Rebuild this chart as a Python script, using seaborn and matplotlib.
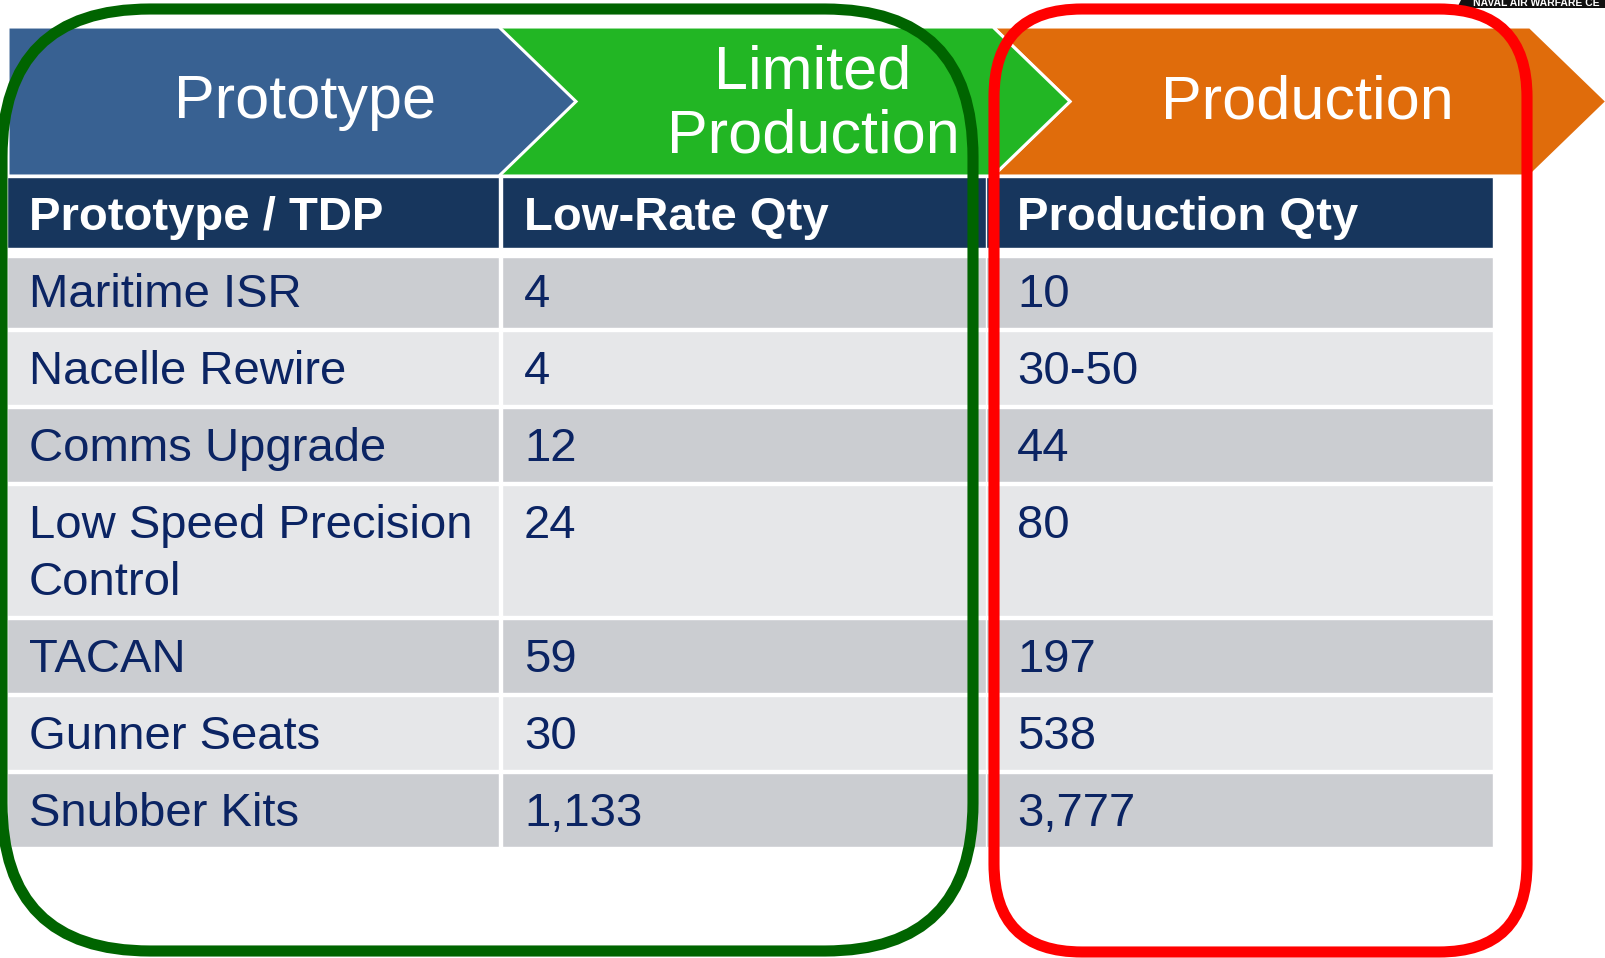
import numpy as np
import seaborn as sns
import matplotlib.pyplot as plt
from matplotlib.patches import Polygon, FancyBboxPatch

sns.set_theme(style="white")
plt.rcParams['font.family'] = ['Liberation Sans', 'DejaVu Sans']

# chart content
stages = ["Prototype", "Limited\nProduction", "Production"]
stage_colors = ["#386192", "#22b624", "#e06c0b"]
headers = ["Prototype / TDP", "Low-Rate Qty", "Production Qty"]
items = ["Maritime ISR", "Nacelle Rewire", "Comms Upgrade",
         "Low Speed Precision\nControl", "TACAN", "Gunner Seats", "Snubber Kits"]
low_rate = ["4", "4", "12", "24", "59", "30", "1,133"]
production = ["10", "30-50", "44", "80", "197", "538", "3,777"]

NAVY = "#17365d"
TXT = "#0b2463"
ROW_COLORS = ["#cbcdd1", "#e6e7e9"]

fig = plt.figure(figsize=(16.05, 9.58), dpi=100)
ax = fig.add_axes([0, 0, 1, 1])
ax.set_xlim(0, 1605)
ax.set_ylim(958, 0)
ax.axis('off')

# --- chevrons across the top
top, bot, depth = 27, 176, 77
mid = (top + bot) / 2
starts = [8, 496, 993]
ends = [499, 993, 1530]
text_x = [305, 813, 1307]
for i in [2, 1, 0]:
    x0, x1 = starts[i], ends[i]
    pts = [(x0, top), (x1, top), (x1 + depth, mid), (x1, bot), (x0, bot)]
    if i > 0:
        pts.append((x0 + depth, mid))
    ax.add_patch(Polygon(pts, closed=True, facecolor=stage_colors[i],
                         edgecolor="white", lw=2.2, zorder=2 + (2 - i) * 0.1))
    lines = stages[i].split("\n")
    if len(lines) == 1:
        ax.text(text_x[i], 118, lines[0], color="white", fontsize=44,
                ha="center", va="baseline", zorder=3)
    else:
        for k, ln in enumerate(lines):
            ax.text(text_x[i], 88 + 64 * k, ln, color="white", fontsize=44,
                    ha="center", va="baseline", zorder=3)

# --- table
col_left = [-100, 7, 502, 986]
col_right = [5, 499, 990, 1493]
col_text = [None, 29, 524, 1017]

# header row
h_top, h_bot = 177, 248
for c in range(4):
    ax.barh((h_top + h_bot) / 2, col_right[c] - col_left[c], left=col_left[c],
            height=h_bot - h_top, color=NAVY, zorder=2)
for c, h in enumerate(headers):
    ax.text(col_text[c + 1], h_top + 53, h, color="white", fontsize=34,
            fontweight="bold", ha="left", va="baseline", zorder=3)

# body rows
y = 254
for r, name in enumerate(items):
    nlines = name.count("\n") + 1
    hgt = 74 + 57 * (nlines - 1)
    y0 = y + 3 if r == 0 else y
    for c in range(4):
        ax.barh((y0 + y + hgt) / 2, col_right[c] - col_left[c], left=col_left[c],
                height=y + hgt - y0, color=ROW_COLORS[r % 2], zorder=2)
    for k, ln in enumerate(name.split("\n")):
        ax.text(col_text[1], y + 53 + 57 * k, ln, color=TXT, fontsize=34,
                ha="left", va="baseline", zorder=3)
    ax.text(col_text[2], y + 53, low_rate[r], color=TXT, fontsize=34,
            ha="left", va="baseline", zorder=3)
    ax.text(col_text[3], y + 53, production[r], color=TXT, fontsize=34,
            ha="left", va="baseline", zorder=3)
    y += hgt + 3

# --- highlight outlines
green_box = FancyBboxPatch((2, 9), 971, 942,
                           boxstyle="round,pad=0,rounding_size=148",
                           facecolor="none", edgecolor="#006400", lw=8, zorder=5)
red_box = FancyBboxPatch((994, 9), 533, 943,
                         boxstyle="round,pad=0,rounding_size=88",
                         facecolor="none", edgecolor="#ff0000", lw=8, zorder=6)
ax.add_patch(green_box)
ax.add_patch(red_box)

# --- cut-off logo strip at the top right
ax.add_patch(Polygon([(1462, -2), (1605, -2), (1605, 8), (1457, 8)], closed=True,
                     facecolor="#111111", edgecolor="none", zorder=4))
ax.text(1473, 6, "NAVAL AIR WARFARE CE", color="white", fontsize=7.5,
        fontweight="bold", ha="left", va="baseline", zorder=4.5)

fig.savefig("out.png", dpi=100)
